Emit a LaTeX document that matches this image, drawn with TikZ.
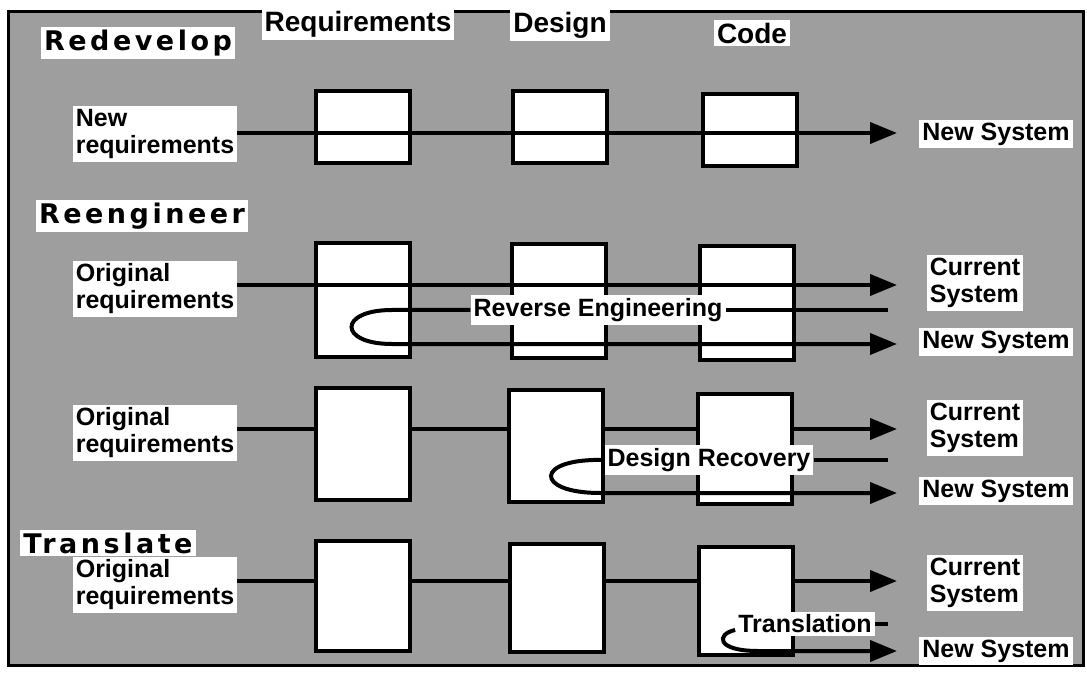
\documentclass[tikz,border=0pt]{standalone}
\usepackage{fontspec}
\setmainfont{Liberation Sans}
\newfontfamily\headfont[LetterSpace=13]{DejaVu Sans}
\usetikzlibrary{arrows.meta, positioning, calc}
\definecolor{screen}{rgb}{0.62,0.62,0.62}
\tikzset{
	stage/.style={draw, line width=4pt, fill=white, minimum width=94pt, inner sep=0pt},
	tag/.style={fill=white, inner sep=3pt, align=left, font=\bfseries\fontsize{25}{27}\selectfont},
	phase/.style={fill=white, inner sep=3pt, font=\bfseries\fontsize{28}{30}\selectfont},
	method/.style={fill=white, inner sep=3pt, font=\headfont\bfseries\fontsize{27}{30}\selectfont},
	flow/.style={draw, line width=4pt, -{Triangle[length=27pt, width=21pt]}},
	link/.style={draw, line width=4pt}
}

\begin{document}
\begin{tikzpicture}[x=1pt, y=-1pt]
	% page and shaded frame
	\useasboundingbox[fill=white] (0,0) rectangle (1087,676);
	\draw[fill=screen, line width=3pt] (8,12) rectangle (1083,665);
	\coordinate (tip) at (897,0);
	\coordinate (stub) at (888,0);
	
	% column headings
	\node[phase] (hreq) at (358,24) {Requirements};
	\node[phase] (hdes) at (560,25) {Design};
	\node[phase] (hcode) at (752,33) {Code};
	
	% Redevelop
	\node[method] (redev) at (138,43) {Redevelop};
	\node[tag] (r1in) at (155,134) {New\\requirements};
	\node[stage, minimum height=72pt] (r1req) at (363,127) {};
	\node[stage, minimum height=72pt] (r1des) at (560,127) {};
	\node[stage, minimum height=72pt] (r1code) at (750,130) {};
	\draw[flow] ([yshift=1pt]r1in.east) -- ([yshift=1pt]r1in.east -| tip);
	\node[tag] (r1new) at (996,134) {New System};
	
	% Reengineer
	\node[method] (reeng) at (142,216) {Reengineer};
	\node[tag] (r2in) at (155,289) {Original\\requirements};
	\node[stage, minimum height=114pt] (r2req) at (363,300) {};
	\node[stage, minimum height=114pt] (r2des) at (559,301) {};
	\node[stage, minimum height=114pt] (r2code) at (747,303) {};
	\draw[flow] ([yshift=4pt]r2in.east) -- ([yshift=4pt]r2in.east -| tip);
	\node[tag] (r2rev) at (598,310) {Reverse Engineering};
	\coordinate (r2end) at (897,344);
	\draw[link] (r2rev.east) -- (r2rev.east -| stub);
	\draw[flow] (r2rev.west) -- (392,310) .. controls (338,310) and (338,344) .. (392,344) -- (r2end);
	\node[tag] (r2cur) at (975,283) {Current\\System};
	\node[tag] (r2new) at (996,342) {New System};
	
	% Reengineer, from the design
	\node[tag] (r3in) at (155,433) {Original\\requirements};
	\node[stage, minimum height=112pt] (r3req) at (363,444) {};
	\node[stage, minimum height=112pt] (r3des) at (556,446) {};
	\node[stage, minimum height=110pt] (r3code) at (745,449) {};
	\draw[link] ([yshift=4pt]r3in.east) -- ([yshift=4pt]r3in.east -| r3req.west);
	\draw[link] ([yshift=4pt]r3in.east -| r3req.east) -- ([yshift=4pt]r3in.east -| r3des.west);
	\draw[link] ([yshift=4pt]r3in.east -| r3des.east) -- ([yshift=4pt]r3in.east -| r3code.west);
	\draw[flow] ([yshift=4pt]r3in.east -| r3code.east) -- ([yshift=4pt]r3in.east -| tip);
	\node[tag] (r3rec) at (709,460) {Design Recovery};
	\coordinate (r3end) at (897,493);
	\draw[link] (r3rec.east) -- (r3rec.east -| stub);
	\draw[flow] (r3rec.west) .. controls (534,458) and (534,493) .. (600,493) -- (r3end);
	\node[tag] (r3cur) at (975,428) {Current\\System};
	\node[tag] (r3new) at (996,491) {New System};
	
	% Translate
	\node[method] (transl) at (108,543) {Translate};
	\node[tag] (r4in) at (155,585) {Original\\requirements};
	\node[stage, minimum height=110pt] (r4req) at (363,596) {};
	\node[stage, minimum height=108pt] (r4des) at (557,598) {};
	\node[stage, minimum height=108pt] (r4code) at (746,601) {};
	\draw[link] ([yshift=4pt]r4in.east) -- ([yshift=4pt]r4in.east -| r4req.west);
	\draw[link] ([yshift=4pt]r4in.east -| r4req.east) -- ([yshift=4pt]r4in.east -| r4des.west);
	\draw[link] ([yshift=4pt]r4in.east -| r4des.east) -- ([yshift=4pt]r4in.east -| r4code.west);
	\draw[flow] ([yshift=4pt]r4in.east -| r4code.east) -- ([yshift=4pt]r4in.east -| tip);
	\node[tag] (r4tr) at (805,624) {Translation};
	\coordinate (r4end) at (897,651);
	\draw[link] (r4tr.east) -- (r4tr.east -| stub);
	\draw[flow] ([yshift=-6pt]r4tr.west) .. controls (716,634) and (716,651) .. (758,651) -- (r4end);
	\node[tag] (r4cur) at (975,583) {Current\\System};
	\node[tag] (r4new) at (996,651) {New System};
\end{tikzpicture}
\end{document}
